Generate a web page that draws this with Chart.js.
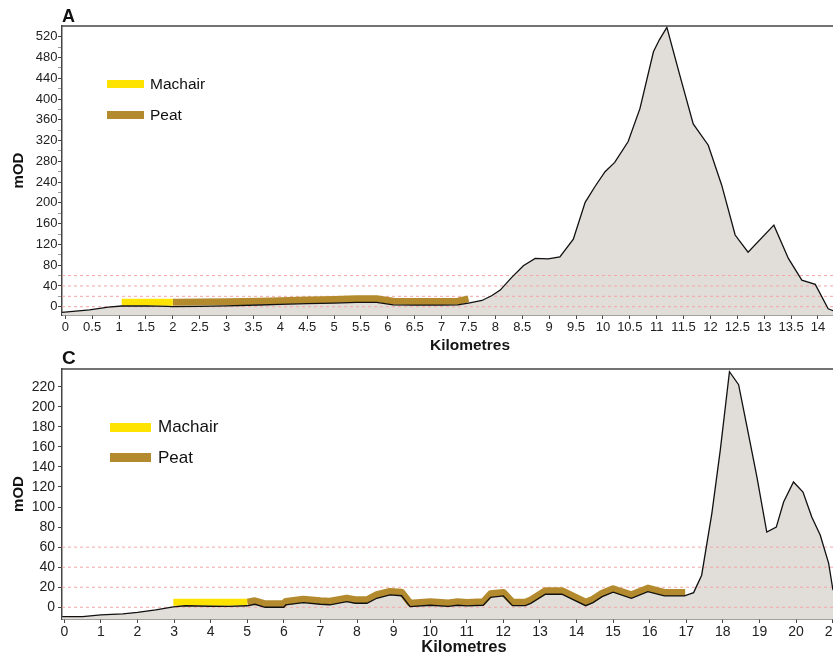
<!DOCTYPE html>
<html>
<head>
<meta charset="utf-8">
<script src="https://cdn.jsdelivr.net/npm/chart.js@4.4.1/dist/chart.umd.min.js"></script>
<style>
html,body{margin:0;padding:0;background:#fff;width:833px;height:657px;overflow:hidden;font-family:"Liberation Sans",Arial,sans-serif;}
#wrap{position:relative;width:833px;height:657px;}
canvas{position:absolute;left:0;}
.lg{position:absolute;display:flex;align-items:center;color:#111;white-space:nowrap;}
.sw{display:inline-block;}
</style>
</head>
<body>
<div id="wrap">
  <canvas id="cA" width="833" height="357" style="top:0px"></canvas>
  <canvas id="cC" width="833" height="317" style="top:340px"></canvas>
</div>
<script>
// ---------------- DATA ----------------
// Panel A: [kilometres, mOD]
const terrainA = [[-0.06,-11],[0.45,-6],[0.8,-1],[1.05,1.3],[1.5,1.5],[1.9,0.5],[2.0,0],[2.5,0.5],[3.0,1.5],[3.6,3.3],[4.0,4.5],[4.5,6],[5.0,7],[5.42,8.5],[5.79,8.5],[6.1,3.5],[6.5,3],[7.0,3],[7.3,3.5],[7.5,7],[7.75,12],[7.93,21],[8.09,32],[8.3,56],[8.52,79],[8.74,93],[8.98,92],[9.2,96],[9.45,130],[9.67,201],[9.85,231],[10.04,260],[10.22,278],[10.47,318],[10.69,382],[10.94,491],[11.05,514],[11.19,538],[11.43,446],[11.68,352],[11.96,311],[12.21,234],[12.46,138],[12.7,105],[13.18,157],[13.45,93],[13.7,51],[13.95,43],[14.19,-4],[14.29,-8]];
const machairA = [[1.05,8.5],[2.0,8.5]];
const peatA = [[2.0,8.5],[2.5,8.8],[3.0,9.5],[3.6,10.5],[4.0,11.5],[4.5,13],[5.0,14],[5.42,15.5],[5.79,15.5],[6.1,10.5],[6.5,10],[7.0,10],[7.3,10.5],[7.5,15]];
// Panel C: [kilometres, mOD]
const terrainC = [[-0.06,-9.4],[0.5,-9.4],[1.0,-7.5],[1.6,-6.5],[2.0,-5],[2.5,-2.5],[2.98,0.5],[3.3,1.5],[4.0,1],[4.5,0.8],[5.0,1.5],[5.21,3],[5.49,0],[6.0,0],[6.05,2.3],[6.53,4.6],[7.0,3],[7.26,2.5],[7.72,5.6],[7.95,4],[8.27,4],[8.54,9],[8.9,12.3],[9.22,11.5],[9.45,0.6],[10.0,2],[10.5,0.8],[10.75,2],[11.0,1.3],[11.45,2],[11.65,10],[12.0,11.3],[12.25,1.6],[12.6,1.6],[12.75,3.9],[13.15,13],[13.6,13],[14.25,1.6],[14.45,4.6],[14.7,10.6],[15.0,15],[15.5,9],[15.95,15.6],[16.4,11.3],[16.95,11.3],[17.2,14.6],[17.42,32],[17.7,94],[17.93,157],[18.18,235],[18.43,222],[18.66,180],[18.93,130],[19.2,75],[19.46,80],[19.66,105],[19.93,125],[20.19,115],[20.43,90],[20.66,72],[20.89,44],[21.01,17]];
const machairC = [[2.98,5],[5.0,5]];
const peatC = [[5.0,5],[5.21,6.5],[5.49,3.5],[6.0,3.5],[6.05,5.8],[6.53,8],[7.0,6.5],[7.26,6],[7.72,9],[7.95,7.5],[8.27,7.5],[8.54,12.5],[8.9,15.8],[9.22,15],[9.45,4.1],[10.0,5.5],[10.5,4.3],[10.75,5.5],[11.0,4.8],[11.45,5.5],[11.65,13.5],[12.0,14.8],[12.25,5.1],[12.6,5.1],[12.75,7.4],[13.15,16.5],[13.6,16.5],[14.25,5.1],[14.45,8.1],[14.7,14.1],[15.0,18.5],[15.5,12.5],[15.95,19.1],[16.4,14.8],[16.97,14.8]];
// dashed reference levels (mOD)
const refLevels = [0, 20, 40, 60];
// tick values
const xTicksA = [0,0.5,1,1.5,2,2.5,3,3.5,4,4.5,5,5.5,6,6.5,7,7.5,8,8.5,9,9.5,10,10.5,11,11.5,12,12.5,13,13.5,14];
const yTicksA = [0,20,40,60,80,100,120,140,160,180,200,220,240,260,280,300,320,340,360,380,400,420,440,460,480,500,520];
const yLabelsA = [0,40,80,120,160,200,240,280,320,360,400,440,480,520];
const xTicksC = [0,1,2,3,4,5,6,7,8,9,10,11,12,13,14,15,16,17,18,19,20,21];
const yTicksC = [0,20,40,60,80,100,120,140,160,180,200,220];
const yLabelsC = yTicksC;
const seriesNames = ['Machair', 'Peat'];

// ---------------- STYLE ----------------
const FONT = '"Liberation Sans", Arial, sans-serif';
const MACHAIR_COL = '#ffe300';
const PEAT_COL = '#b38b2e';
const TERRAIN_FILL = '#e1ddd9';
const REF_COL = '#f4a6a6';
const AXIS_COL = '#454545';

const toXY = arr => arr.map(p => ({x: p[0], y: p[1]}));
const noPad = a => { a.paddingLeft = 0; a.paddingRight = 0; a.paddingTop = 0; a.paddingBottom = 0; };

const frameTitle = {
  id: 'frameTitle',
  afterDraw(chart, args, o) {
    const {ctx, chartArea} = chart;
    ctx.save();
    ctx.strokeStyle = AXIS_COL;
    ctx.lineWidth = 1.5;
    ctx.beginPath();
    ctx.moveTo(chartArea.left, chartArea.top);
    ctx.lineTo(chartArea.right, chartArea.top);
    ctx.stroke();
    ctx.fillStyle = '#151515';
    ctx.font = 'bold ' + o.size + 'px ' + FONT;
    ctx.textAlign = 'center';
    ctx.textBaseline = 'middle';
    ctx.fillText(o.text, o.x, o.y);
    ctx.restore();
  }
};

function makeChart(id, c) {
  const datasets = [
    {label: 'terrainLine', data: toXY(c.terrain), borderColor: '#111', borderWidth: 1.3, pointRadius: 0, fill: false, order: 0},
    {label: seriesNames[0], data: toXY(c.machair), borderColor: MACHAIR_COL, borderWidth: 7, borderCapStyle: 'butt', pointRadius: 0, fill: false, order: 1},
    {label: seriesNames[1], data: toXY(c.peat), borderColor: PEAT_COL, borderWidth: 7, borderCapStyle: 'butt', borderJoinStyle: 'round', pointRadius: 0, fill: false, order: 2}
  ];
  refLevels.forEach(l => datasets.push({label: 'ref' + l, data: [{x: c.xMin, y: l}, {x: c.xMax, y: l}], borderColor: REF_COL, borderWidth: 1, borderDash: [3, 3], pointRadius: 0, fill: false, order: 3}));
  datasets.push({label: 'terrainFill', data: toXY(c.terrain), borderWidth: 0, borderColor: 'rgba(0,0,0,0)', backgroundColor: TERRAIN_FILL, fill: 'start', pointRadius: 0, order: 4});

  const chart = new Chart(document.getElementById(id), {
    type: 'line',
    data: {datasets},
    plugins: [frameTitle],
    options: {
      responsive: false, animation: false, events: [],
      layout: {padding: 0, autoPadding: false},
      plugins: {
        legend: {display: false},
        tooltip: {enabled: false},
        title: {display: true, text: c.letter, align: 'start', fullSize: false, color: '#111',
                font: {family: FONT, size: c.letterSize, weight: 'bold', lineHeight: 1},
                padding: {top: c.letterPadTop, bottom: c.letterPadBottom}},
        frameTitle: {text: 'Kilometres', x: c.kmX, y: c.kmY, size: c.kmSize}
      },
      scales: {
        x: {
          type: 'linear', min: c.xMin, max: c.xMax,
          afterBuildTicks: a => { a.ticks = c.xTicks.map(v => ({value: v})); },
          afterFit: a => { a.height = c.xAxisH; noPad(a); },
          ticks: {autoSkip: false, maxRotation: 0, minRotation: 0, padding: c.xPad, color: '#222',
                  font: {family: FONT, size: c.tickSize}, callback: v => String(v)},
          grid: {display: true, drawOnChartArea: false, drawTicks: true, tickLength: 4, tickColor: AXIS_COL},
          border: {display: true, color: AXIS_COL, width: 1.5}
        },
        y: {
          type: 'linear', min: c.yMin, max: c.yMax,
          afterBuildTicks: a => { a.ticks = c.yTicks.map(v => ({value: v})); },
          afterFit: a => { a.width = 62; noPad(a); },
          ticks: {autoSkip: false, padding: c.yPad, color: '#222', font: {family: FONT, size: c.tickSize},
                  callback: v => (c.yLabels.indexOf(v) >= 0 ? String(v) : '')},
          grid: {display: true, drawOnChartArea: false, drawTicks: true, tickLength: 4,
                 tickColor: ctx => (ctx.tick && c.yLabels.indexOf(ctx.tick.value) >= 0 ? AXIS_COL : '#999')},
          border: {display: true, color: AXIS_COL, width: 1.5},
          title: {display: true, text: 'mOD', color: '#111', font: {family: FONT, size: 15, weight: 'bold'}, padding: {top: 10, bottom: 0}}
        }
      }
    }
  });

  // legend (HTML, built from the datasets)
  const wrap = document.getElementById('wrap');
  [1, 2].forEach((di, k) => {
    const d = chart.data.datasets[di];
    const item = c.legend[k];
    const div = document.createElement('div');
    div.className = 'lg';
    div.style.left = item.x + 'px';
    div.style.top = (item.cy - c.legendFont * 0.6) + 'px';
    div.style.height = (c.legendFont * 1.2) + 'px';
    div.style.fontSize = c.legendFont + 'px';
    const sw = document.createElement('span');
    sw.className = 'sw';
    sw.style.width = c.swW + 'px';
    sw.style.height = c.swH + 'px';
    sw.style.background = d.borderColor;
    const tx = document.createElement('span');
    tx.textContent = d.label;
    tx.style.marginLeft = c.swGap + 'px';
    div.appendChild(sw);
    div.appendChild(tx);
    wrap.appendChild(div);
  });
  return chart;
}

makeChart('cA', {
  terrain: terrainA, machair: machairA, peat: peatA,
  xMin: -0.061, xMax: 14.28, yMin: -16, yMax: 540.6,
  xTicks: xTicksA, yTicks: yTicksA, yLabels: yLabelsA,
  letter: 'A', letterSize: 18, letterPadTop: 8, letterPadBottom: 0,
  xAxisH: 42, tickSize: 13, xPad: 1, yPad: 0.5,
  kmX: 470, kmY: 346, kmSize: 15.5,
  legendFont: 15.5, swW: 37, swH: 8, swGap: 6,
  legend: [{x: 107, cy: 84}, {x: 107, cy: 115.5}]
});

makeChart('cC', {
  terrain: terrainC, machair: machairC, peat: peatC,
  xMin: -0.063, xMax: 21.01, yMin: -11.7, yMax: 237.7,
  xTicks: xTicksC, yTicks: yTicksC, yLabels: yLabelsC,
  letter: 'C', letterSize: 19, letterPadTop: 9.5, letterPadBottom: 0.5,
  xAxisH: 38, tickSize: 14, xPad: 1, yPad: 3,
  kmX: 464, kmY: 307.5, kmSize: 16.5,
  legendFont: 17, swW: 41, swH: 9, swGap: 7,
  legend: [{x: 110, cy: 427.5}, {x: 110, cy: 458}]
});
</script>
</body>
</html>
